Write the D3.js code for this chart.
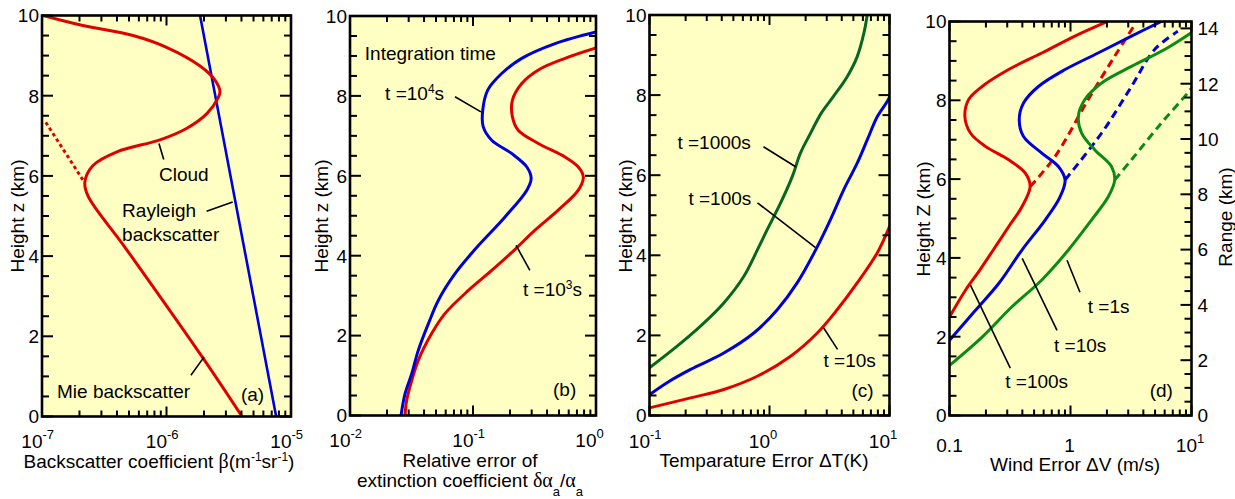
<!DOCTYPE html>
<html>
<head>
<meta charset="utf-8">
<script src="https://cdn.jsdelivr.net/npm/d3@7"></script>
<style>
  body { margin: 0; background: #ffffff; }
  svg text { font-family: "Liberation Sans", Arial, sans-serif; fill: #000; }
</style>
</head>
<body>
<svg id="chart" width="1235" height="499"></svg>
<script>
// ---------------- data ----------------
// (a) backscatter profiles: beta (m^-1 sr^-1) vs height (km)
const rayleighZ    = [0, 10];
const rayleighBeta = [7.6e-6, 1.86e-6];
const mieCloudZ    = [0, 1.46, 4.22, 5.5, 5.85, 6.26, 6.6, 6.9, 7.19, 7.56, 7.94, 8.1, 8.39, 8.74, 9.2, 9.5, 9.75, 10];
const mieCloudBeta = [4.04e-6, 1.96e-6, 4.64e-7, 2.34e-7, 2.21e-7, 2.57e-7, 4.0e-7, 8.87e-7, 1.46e-6, 2.12e-6, 2.59e-6, 2.69e-6, 2.45e-6, 1.86e-6, 1.01e-6, 5.38e-7, 2.13e-7, 1.02e-7];
const mieClearZ    = [5.9, 7.4];
const mieClearBeta = [2.13e-7, 1.04e-7];

// (b) relative error of extinction coefficient
const extT4Z   = [0, 0.54, 1.05, 1.63, 2.30, 2.88, 3.55, 4.16, 4.97, 5.64, 5.93, 6.22, 6.56, 6.89, 7.23, 7.64, 8.15, 8.56, 8.94, 9.31, 9.6];
const extT4Err = [0.026, 0.028, 0.0318, 0.0359, 0.0434, 0.0522, 0.0714, 0.104, 0.182, 0.274, 0.297, 0.274, 0.206, 0.142, 0.121, 0.12, 0.132, 0.171, 0.249, 0.465, 1.0];
const extT3Z   = [0, 0.38, 0.88, 1.38, 2.05, 2.55, 3.13, 3.63, 4.16, 4.64, 5.14, 5.64, 5.97, 6.22, 6.47, 6.81, 7.14, 7.48, 7.89, 8.31, 8.65, 8.94, 9.2];
const extT3Err = [0.028, 0.0289, 0.0318, 0.0359, 0.0461, 0.0591, 0.0917, 0.142, 0.22, 0.319, 0.493, 0.718, 0.789, 0.718, 0.56, 0.34, 0.233, 0.209, 0.209, 0.249, 0.34, 0.56, 1.0];

// (c) temperature error (K)
const tempT1000Z   = [1.19, 1.73, 2.23, 2.81, 3.47, 4.16, 4.64, 5.30, 5.97, 6.55, 7.05, 7.55, 7.96, 8.46, 8.96, 9.54, 10];
const tempT1000Err = [0.1, 0.17, 0.266, 0.416, 0.61, 0.80, 0.957, 1.235, 1.55, 1.81, 2.20, 2.70, 3.40, 4.44, 5.38, 6.11, 6.52];
const tempT100Z    = [0.52, 0.82, 1.15, 1.56, 2.06, 2.64, 3.31, 4.16, 4.89, 5.64, 6.30, 6.88, 7.46, 7.84, 7.95];
const tempT100Err  = [0.1, 0.14, 0.22, 0.416, 0.74, 1.16, 1.70, 2.45, 3.22, 4.16, 5.38, 6.52, 7.9, 9.57, 10];
const tempT10Z     = [0.19, 0.44, 0.65, 0.98, 1.48, 2.06, 2.64, 3.31, 4.06, 4.72];
const tempT10Err   = [0.1, 0.22, 0.416, 0.79, 1.50, 2.50, 3.66, 5.38, 7.9, 10];

// (d) wind error (m/s); dashed = clear air above the cloud
const windT100Z      = [2.50, 3.18, 3.69, 4.22, 4.79, 5.30, 5.81, 6.15, 6.49, 6.83, 7.17, 7.59, 8.02, 8.35, 8.78, 9.20, 9.63, 9.97];
const windT100Err    = [0.1, 0.1355, 0.178, 0.232, 0.308, 0.397, 0.464, 0.423, 0.308, 0.198, 0.149, 0.134, 0.144, 0.186, 0.308, 0.579, 1.089, 1.92];
const windT100ClearZ   = [5.81, 6.57, 8.02, 9.12, 9.92];
const windT100ClearErr = [0.464, 0.745, 1.40, 2.32, 3.40];
const windT10Z       = [1.91, 2.67, 3.35, 4.2, 4.96, 5.55, 5.98, 6.32, 6.66, 7.08, 7.51, 7.93, 8.35, 8.78, 9.20, 9.63, 10.0];
const windT10Err     = [0.1, 0.164, 0.255, 0.397, 0.617, 0.82, 0.902, 0.794, 0.579, 0.409, 0.377, 0.409, 0.543, 0.902, 1.69, 3.19, 5.63];
const windT10ClearZ    = [5.98, 7.17, 8.35, 9.29, 9.75];
const windT10ClearErr  = [0.902, 1.81, 3.19, 4.96, 7.71];
const windT1Z        = [1.27, 1.99, 2.76, 3.44, 4.2, 4.96, 5.55, 5.98, 6.32, 6.74, 7.17, 7.59, 8.02, 8.44, 8.86, 9.29, 9.71];
const windT1Err      = [0.1, 0.186, 0.328, 0.579, 0.96, 1.49, 2.05, 2.32, 2.18, 1.59, 1.236, 1.16, 1.315, 1.81, 3.19, 6.0, 9.9];
const windT1ClearZ     = [5.98, 6.49, 7.42, 8.19, 8.31];
const windT1ClearErr   = [2.32, 3.19, 5.63, 9.33, 10];

// axis ticks
const heightTicks = [0, 2, 4, 6, 8, 10];
const rangeTicks  = [0, 2, 4, 6, 8, 10, 12, 14];
const rangeMax    = 14.25;   // slant range (km) at the top of the height axis

// ---------------- drawing ----------------
const svg = d3.select('#chart');
const SERIF = '"Liberation Serif", "DejaVu Serif", serif';
const BG = '#ffffc4';
const RED = '#e10000', BLUE = '#0000dc', GREEN_C = '#07661f', GREEN_D = '#0c8a16';
const FS = 19;
let clipCount = 0;

function addPanel(box, xDomain) {
  const x = d3.scaleLog().domain(xDomain).range([box.l, box.r]);
  const y = d3.scaleLinear().domain([0, 10]).range([box.b, box.t]);
  const g = svg.append('g');
  g.append('rect')
    .attr('x', box.l).attr('y', box.t)
    .attr('width', box.r - box.l).attr('height', box.b - box.t)
    .attr('fill', BG);
  const id = 'plotclip' + (++clipCount);
  svg.append('clipPath').attr('id', id).append('rect')
    .attr('x', box.l).attr('y', box.t)
    .attr('width', box.r - box.l).attr('height', box.b - box.t);
  const plot = g.append('g').attr('clip-path', `url(#${id})`);
  const ann = g.append('g');
  const over = g.append('g');
  return { box, x, y, g, plot, ann, over };
}

function curve(p, xs, zs, color, dash, width) {
  const line = d3.line()
    .x(d => p.x(d[0])).y(d => p.y(d[1]))
    .curve(d3.curveCatmullRom.alpha(0.5));
  p.plot.append('path')
    .datum(d3.zip(xs, zs))
    .attr('d', line)
    .attr('fill', 'none')
    .attr('stroke', color)
    .attr('stroke-width', width || 3)
    .attr('stroke-linecap', dash ? 'butt' : 'round')
    .attr('stroke-linejoin', 'round')
    .attr('stroke-dasharray', dash || null);
}

function frame(p, rightScale, rightTicks) {
  const { box, x, y, over } = p;
  const [d0, d1] = x.domain();
  const k0 = Math.round(Math.log10(d0)), k1 = Math.round(Math.log10(d1));
  const xt = [];
  for (let k = k0; k < k1; k++)
    for (let j = 1; j < 10; j++) xt.push({ v: j * Math.pow(10, k), major: j === 1 });
  xt.push({ v: Math.pow(10, k1), major: true });

  const tick = (sel) => sel.attr('stroke', '#000').attr('stroke-width', 2);
  over.selectAll(null).data(xt).join('line')
    .attr('x1', d => x(d.v)).attr('x2', d => x(d.v))
    .attr('y1', box.b).attr('y2', d => box.b - (d.major ? 10 : 6)).call(tick);
  over.selectAll(null).data(xt).join('line')
    .attr('x1', d => x(d.v)).attr('x2', d => x(d.v))
    .attr('y1', box.t).attr('y2', d => box.t + (d.major ? 10 : 6)).call(tick);

  const yt = d3.range(0, 10.001, 0.5).map(v => ({ v, major: Math.abs(v % 2) < 1e-9 }));
  over.selectAll(null).data(yt).join('line')
    .attr('y1', d => y(d.v)).attr('y2', d => y(d.v))
    .attr('x1', box.l).attr('x2', d => box.l + (d.major ? 11 : 7)).call(tick);

  const rs = rightScale || y;
  const rmax = rs.domain()[1];
  const rt = d3.range(0, rmax + 0.001, 0.5).map(v => ({ v, major: Math.abs(v % 2) < 1e-9 }));
  over.selectAll(null).data(rt).join('line')
    .attr('y1', d => rs(d.v)).attr('y2', d => rs(d.v))
    .attr('x1', box.r).attr('x2', d => box.r - (d.major ? 11 : 7)).call(tick);

  over.append('rect')
    .attr('x', box.l).attr('y', box.t)
    .attr('width', box.r - box.l).attr('height', box.b - box.t)
    .attr('fill', 'none').attr('stroke', '#000').attr('stroke-width', 2.6);

  // height tick labels
  over.selectAll(null).data(heightTicks).join('text')
    .attr('x', box.l - 3).attr('y', d => y(d)).attr('dy', '0.36em')
    .attr('text-anchor', 'end').attr('font-size', FS)
    .text(d => d);

  if (rightScale) {
    over.selectAll(null).data(rightTicks).join('text')
      .attr('x', box.r + 6).attr('y', d => rightScale(d)).attr('dy', '0.36em')
      .attr('text-anchor', 'start').attr('font-size', FS)
      .text(d => d);
  }
}

// "10" with a superscript exponent; the base "10" ends at the tick
function powLabel(p, value, exp, baseline, shift) {
  const t = p.over.append('text').attr('y', baseline)
    .attr('text-anchor', 'start').attr('font-size', FS);
  const base = t.append('tspan').text('10');
  t.append('tspan').attr('font-size', 13).attr('dy', -9).text(exp);
  const w = base.node().getComputedTextLength();
  t.attr('x', p.x(value) + (shift || 0) + 0.5 - w);
}

// rich text: parts = [[string, kind]] with kind '', 'sup', 'sub', 'greek'
function rich(sel, x, y, parts, anchor, size) {
  const t = sel.append('text').attr('x', x).attr('y', y)
    .attr('text-anchor', anchor || 'start').attr('font-size', size || FS);
  let shift = 0;
  parts.forEach(([s, kind]) => {
    const sp = t.append('tspan').text(s);
    let target = 0;
    if (kind === 'sup') { target = -7; sp.attr('font-size', 12); }
    else if (kind === 'sub') { target = 9; sp.attr('font-size', 13); }
    if (kind === 'greek') sp.style('font-family', SERIF).attr('font-size', (size || FS) + 1);
    if (target !== shift) { sp.attr('dy', target - shift); shift = target; }
  });
  return t;
}

function yTitle(text, cx, cy) {
  svg.append('text')
    .attr('transform', `translate(${cx},${cy}) rotate(-90)`)
    .attr('text-anchor', 'middle').attr('dy', '0.36em')
    .attr('font-size', FS).text(text);
}

function leader(p, a, b) {
  p.ann.append('line')
    .attr('x1', p.x(a[0])).attr('y1', p.y(a[1]))
    .attr('x2', p.x(b[0])).attr('y2', p.y(b[1]))
    .attr('stroke', '#000').attr('stroke-width', 1.6);
}

function note(p, at, parts) {
  rich(p.ann, p.x(at[0]), p.y(at[1]), parts, 'start');
}

// ---------- (a) ----------
const pa = addPanel({ l: 42, r: 291, t: 15.5, b: 416.5 }, [1e-7, 1e-5]);
curve(pa, rayleighBeta, rayleighZ, BLUE, null, 2.6);
curve(pa, mieClearBeta, mieClearZ, RED, '3.5,3', 3);
curve(pa, mieCloudBeta, mieCloudZ, RED);
leader(pa, [8.7e-7, 6.81], [9.5e-7, 6.41]);
leader(pa, [2.1e-6, 5.12], [3.4e-6, 5.35]);
leader(pa, [1.57e-6, 1.03], [2.0e-6, 1.48]);
note(pa, [8.7e-7, 5.87], [['Cloud', '']]);
note(pa, [4.4e-7, 4.97], [['Rayleigh', '']]);
note(pa, [4.4e-7, 4.37], [['backscatter', '']]);
note(pa, [1.32e-7, 0.46], [['Mie backscatter', '']]);
note(pa, [3.96e-6, 0.38], [['(a)', '']]);
frame(pa);
powLabel(pa, 1e-7, '-7', 448);
powLabel(pa, 1e-6, '-6', 448);
powLabel(pa, 1e-5, '-5', 448);
rich(svg, 159, 468, [['Backscatter coefficient ', ''], ['\u03b2', 'greek'], ['(m', ''], ['-1', 'sup'], ['sr', ''], ['-1', 'sup'], [')', '']], 'middle');
yTitle('Height z (km)', 17, 216);

// ---------- (b) ----------
const pb = addPanel({ l: 350, r: 596, t: 16, b: 415.5 }, [1e-2, 1]);
curve(pb, extT3Err, extT3Z, RED);
curve(pb, extT4Err, extT4Z, BLUE);
leader(pb, [0.0714, 7.98], [0.116, 7.6]);
leader(pb, [0.224, 4.26], [0.29, 3.63]);
note(pb, [0.0132, 8.9], [['Integration time', '']]);
note(pb, [0.0193, 7.89], [['t =10', ''], ['4', 'sup'], ['s', '']]);
note(pb, [0.255, 3.0], [['t =10', ''], ['3', 'sup'], ['s', '']]);
note(pb, [0.447, 0.48], [['(b)', '']]);
frame(pb);
powLabel(pb, 1e-2, '-2', 447);
powLabel(pb, 1e-1, '-1', 447);
powLabel(pb, 1, '0', 447);
rich(svg, 470, 467, [['Relative error of', '']], 'middle');
rich(svg, 470, 487, [['extinction coefficient ', ''], ['\u03b4\u03b1', 'greek'], ['a', 'sub'], ['/', ''], ['\u03b1', 'greek'], ['a', 'sub']], 'middle');
yTitle('Height z (km)', 321, 216);

// ---------- (c) ----------
const pc = addPanel({ l: 649.5, r: 889.5, t: 15, b: 415.5 }, [1e-1, 10]);
curve(pc, tempT10Err, tempT10Z, RED);
curve(pc, tempT100Err, tempT100Z, BLUE);
curve(pc, tempT1000Err, tempT1000Z, GREEN_C);
leader(pc, [0.891, 6.71], [1.65, 6.21]);
leader(pc, [0.794, 5.31], [2.42, 4.19]);
leader(pc, [3.69, 1.65], [2.82, 2.19]);
note(pc, [0.171, 6.66], [['t =1000s', '']]);
note(pc, [0.211, 5.26], [['t =100s', '']]);
note(pc, [2.82, 1.2], [['t =10s', '']]);
note(pc, [4.82, 0.45], [['(c)', '']]);
frame(pc);
powLabel(pc, 1e-1, '-1', 448);
powLabel(pc, 1, '0', 448);
powLabel(pc, 10, '1', 448);
rich(svg, 764, 467, [['Temparature Error \u0394T(K)', '']], 'middle');
yTitle('Height z (km)', 625, 216);

// ---------- (d) ----------
const pd = addPanel({ l: 949.5, r: 1191.5, t: 21.5, b: 415.5 }, [0.1, 10]);
const rangeScale = d3.scaleLinear().domain([0, rangeMax]).range([pd.box.b, pd.box.t]);
curve(pd, windT100ClearErr, windT100ClearZ, RED, '8,5');
curve(pd, windT10ClearErr, windT10ClearZ, BLUE, '8,5');
curve(pd, windT1ClearErr, windT1ClearZ, GREEN_D, '8,5');
curve(pd, windT100Err, windT100Z, RED);
curve(pd, windT10Err, windT10Z, BLUE);
curve(pd, windT1Err, windT1Z, GREEN_D);
leader(pd, [0.936, 3.94], [1.197, 3.13]);
leader(pd, [0.399, 3.99], [0.774, 2.16]);
leader(pd, [0.149, 3.31], [0.318, 1.2]);
note(pd, [1.39, 2.6], [['t =1s', '']]);
note(pd, [0.731, 1.6], [['t =10s', '']]);
note(pd, [0.289, 0.69], [['t =100s', '']]);
note(pd, [4.51, 0.46], [['(d)', '']]);
frame(pd, rangeScale, rangeTicks);
pd.over.append('text').attr('x', pd.x(0.1)).attr('y', 452)
  .attr('text-anchor', 'middle').attr('font-size', FS).text('0.1');
pd.over.append('text').attr('x', pd.x(1) - 1).attr('y', 452)
  .attr('text-anchor', 'middle').attr('font-size', FS).text('1');
powLabel(pd, 10, '1', 452, 5);
rich(svg, 1075, 471, [['Wind Error \u0394V (m/s)', '']], 'middle');
yTitle('Height Z (km)', 923, 219);
yTitle('Range (km)', 1225, 217);
</script>
</body>
</html>
